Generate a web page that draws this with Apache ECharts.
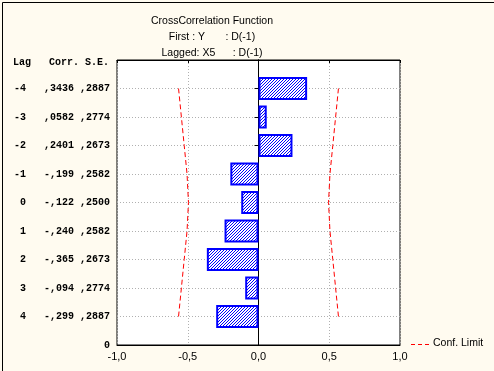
<!DOCTYPE html>
<html><head><meta charset="utf-8">
<script src="https://cdn.jsdelivr.net/npm/echarts@6/dist/echarts.min.js"></script>
<style>html,body{margin:0;padding:0;background:#fffbf0;}#c{width:494px;height:371px;}</style>
</head><body><div id="c"></div>
<script>
const lags = [-4, -3, -2, -1, 0, 1, 2, 3, 4];
const corr = [0.3436, 0.0582, 0.2401, -0.199, -0.122, -0.240, -0.365, -0.094, -0.299];
const corrText = [',3436', ',0582', ',2401', '-,199', '-,122', '-,240', '-,365', '-,094', '-,299'];
const seText = [',2887', ',2774', ',2673', ',2582', ',2500', ',2582', ',2673', ',2774', ',2887'];
const confLimit = [0.565, 0.545, 0.525, 0.505, 0.495, 0.505, 0.525, 0.545, 0.565];
const xTicks = [-1, -0.5, 0, 0.5, 1];

const n = lags.length;
const cats = [];
for (let i = 0; i <= n + 1; i++) cats.push(String(i));
function slotOf(k) { return n - k; }
const barData = new Array(n + 2).fill(null);
const upData = new Array(n + 2).fill(null);
const loData = new Array(n + 2).fill(null);
const labels = new Array(n + 2).fill('');
labels[0] = '0';
lags.forEach((lag, k) => {
  const s = slotOf(k);
  barData[s] = corr[k];
  upData[s] = confLimit[k];
  loData[s] = -confLimit[k];
  const l = (lag < 0 ? String(lag) : ' ' + lag);
  labels[s] = l + '   ' + corrText[k] + ' ' + seText[k];
});

// hatch pattern
const P = 3;
const pc = document.createElement('canvas');
pc.width = P; pc.height = P;
const px = pc.getContext('2d');
px.fillStyle = '#ffffff'; px.fillRect(0, 0, P, P);
px.fillStyle = '#0000ff';
for (let i = 0; i < P; i++) px.fillRect(i, P - 1 - i, 1, 1);

const chart = echarts.init(document.getElementById('c'), null, {renderer: 'canvas'});
const gridLine = {show: true, lineStyle: {color: '#b0b0b0', type: [1, 2], width: 1}};
chart.setOption({
  backgroundColor: '#fffbf0',
  animation: false,
  title: {
    text: 'CrossCorrelation Function\nFirst : Y       : D(-1)\nLagged: X5      : D(-1)',
    left: 207, top: 8, textAlign: 'center',
    textStyle: {fontSize: 10.5, fontWeight: 'normal', color: '#000', fontFamily: 'Liberation Sans', lineHeight: 16}
  },
  graphic: [
    {type: 'rect', left: 0, top: 0, shape: {x: 0, y: 0, width: 493, height: 370}, style: {fill: 'none', stroke: '#000', lineWidth: 1}, silent: true, z: 100},
    {type: 'text', left: 13, top: 57, style: {text: 'Lag   Corr. S.E.', font: 'bold 10px "Liberation Mono"', fill: '#000'}},
    {type: 'line', shape: {x1: 411, y1: 344.5, x2: 429, y2: 344.5}, style: {stroke: '#ff0000', lineWidth: 1, lineDash: [4, 3]}},
    {type: 'text', left: 433, top: 338, style: {text: 'Conf. Limit', font: '10.5px "Liberation Sans"', fill: '#000'}}
  ],
  grid: {left: 117, right: 94, top: 60, bottom: 26, show: true, backgroundColor: '#ffffff', borderColor: '#000', borderWidth: 1},
  xAxis: [
    {type: 'value', min: xTicks[0], max: xTicks[xTicks.length - 1], interval: 0.5,
     axisLine: {show: true, lineStyle: {color: '#000'}}, axisTick: {show: false},
     splitLine: gridLine,
     axisLabel: {margin: 6, fontSize: 11, color: '#000', fontFamily: 'Liberation Sans',
       formatter: v => v.toFixed(1).replace('.', ',')}},
    {type: 'value', position: 'top', min: xTicks[0], max: xTicks[xTicks.length - 1], interval: 0.5,
     axisLine: {show: true, lineStyle: {color: '#000'}}, axisTick: {show: true, inside: true, length: 3, lineStyle: {color: '#000'}},
     splitLine: {show: false}, axisLabel: {show: false}}
  ],
  yAxis: [
    {type: 'category', data: cats, boundaryGap: false,
     axisLine: {show: true, lineStyle: {color: '#000'}},
     axisTick: {show: true, length: 4, lineStyle: {color: '#000'}},
     splitLine: gridLine,
     axisLabel: {margin: 7, fontSize: 10, fontWeight: 'bold', color: '#000', fontFamily: 'Liberation Mono',
       formatter: (v, i) => labels[i]}},
    {type: 'category', data: cats, boundaryGap: false, position: 'right',
     axisLine: {show: true, lineStyle: {color: '#000'}},
     axisTick: {show: true, inside: true, length: 3, lineStyle: {color: '#000'}},
     axisLabel: {show: false}, splitLine: {show: false}}
  ],
  series: [
    {type: 'bar', data: barData, barWidth: 23, z: 3,
     itemStyle: {color: {image: pc, repeat: 'repeat'}, borderColor: '#0000ff', borderWidth: 2}},
    {type: 'line', name: 'Conf. Limit', data: upData, symbol: 'none', z: 4,
     lineStyle: {color: '#ff0000', width: 1, type: [5, 3]}},
    {type: 'line', name: 'Conf. Limit', data: loData, symbol: 'none', z: 4,
     lineStyle: {color: '#ff0000', width: 1, type: [5, 3]}}
  ]
});
</script></body></html>
